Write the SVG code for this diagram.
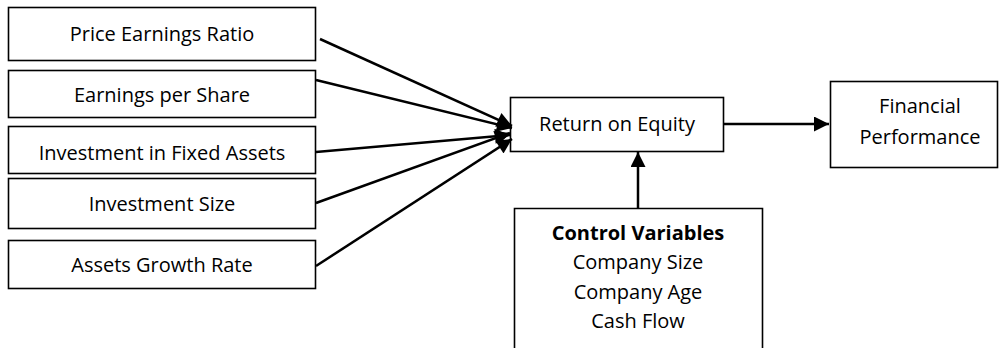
<svg xmlns="http://www.w3.org/2000/svg" width="999" height="348" viewBox="0 0 999 348">
<style>
.box{fill:#fff;stroke:#000;stroke-width:1.6}
.t{font-family:"Open Sans","Liberation Sans",sans-serif;font-size:20px;fill:#000;text-anchor:middle}
.b{font-weight:bold}
.c{stroke:#000;stroke-width:2.5;fill:none}
</style>
<defs>
<marker id="ah" viewBox="0 0 10 10" refX="10" refY="5" markerWidth="6.5" markerHeight="6" markerUnits="strokeWidth" orient="auto">
<path d="M0,0 L10,5 L0,10 z" fill="#000"/>
</marker>
</defs>
<g id="n1"><rect class="box" x="8.5" y="7.5" width="307" height="53"/><text class="t" x="162" y="41">Price Earnings Ratio</text></g>
<g id="n2"><rect class="box" x="8.5" y="70.5" width="307" height="47"/><text class="t" x="162" y="102">Earnings per Share</text></g>
<g id="n3"><rect class="box" x="8.5" y="126.5" width="307" height="47"/><text class="t" x="162" y="160">Investment in Fixed Assets</text></g>
<g id="n4"><rect class="box" x="8.5" y="178.5" width="307" height="50"/><text class="t" x="162" y="211">Investment Size</text></g>
<g id="n5"><rect class="box" x="8.5" y="240.5" width="307" height="48"/><text class="t" x="162" y="272">Assets Growth Rate</text></g>
<g id="roe"><rect class="box" x="510.5" y="97.5" width="213" height="54"/><text class="t" x="617" y="131">Return on Equity</text></g>
<g id="fp"><rect class="box" x="830.5" y="81.5" width="167" height="86"/><text class="t" x="920" y="113">Financial</text><text class="t" x="920" y="144">Performance</text></g>
<g id="cv"><path class="box" d="M514.5,348 V208.5 H762.5 V348"/><text class="t b" x="638" y="240">Control Variables</text><text class="t" x="638" y="269">Company Size</text><text class="t" x="638" y="299">Company Age</text><text class="t" x="638" y="328">Cash Flow</text></g>
<g id="connectors">
<line class="c" x1="320" y1="39" x2="512" y2="126" marker-end="url(#ah)"/>
<line class="c" x1="316" y1="80" x2="512" y2="128" marker-end="url(#ah)"/>
<line class="c" x1="316" y1="152" x2="510" y2="135" marker-end="url(#ah)"/>
<line class="c" x1="316" y1="203" x2="510" y2="133" marker-end="url(#ah)"/>
<line class="c" x1="316" y1="266" x2="512" y2="139" marker-end="url(#ah)"/>
<line class="c" x1="724" y1="124" x2="829" y2="124" marker-end="url(#ah)"/>
<line class="c" x1="638" y1="208" x2="638" y2="152" marker-end="url(#ah)"/>
</g>
</svg>
